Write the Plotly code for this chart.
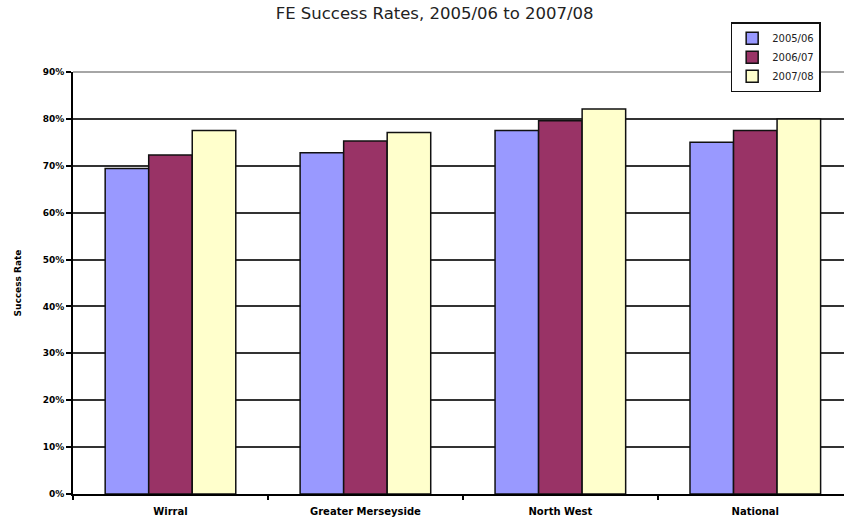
import plotly.graph_objects as go

categories = ["Wirral", "Greater Merseyside", "North West", "National"]
series_names = ["2005/06", "2006/07", "2007/08"]
values_0506 = [0.694, 0.728, 0.775, 0.750]
values_0607 = [0.723, 0.753, 0.796, 0.775]
values_0708 = [0.775, 0.771, 0.821, 0.800]
colors = ["#9999FF", "#993366", "#FFFFCC"]
y_tick_vals = [0, 0.1, 0.2, 0.3, 0.4, 0.5, 0.6, 0.7, 0.8, 0.9]

fig = go.Figure()
for name, vals, col in zip(series_names, [values_0506, values_0607, values_0708], colors):
    fig.add_trace(go.Bar(
        x=categories, y=vals, name=name,
        marker=dict(color=col, line=dict(color="#111111", width=1.5)),
    ))

fig.update_layout(
    width=844, height=520,
    paper_bgcolor="white", plot_bgcolor="white",
    margin=dict(l=73, r=0, t=72, b=26, autoexpand=False),
    barmode="group", bargap=0.33, bargroupgap=0,
    font=dict(family="DejaVu Sans", color="black"),
    title=dict(text="FE Success Rates, 2005/06 to 2007/08",
               x=0.515, xref="container", xanchor="center",
               y=0.975, yref="container", yanchor="middle",
               font=dict(family="DejaVu Sans", size=16.5, color="#222")),
    legend=dict(x=0.853, y=1.118, xanchor="left", yanchor="top",
                xref="paper", yref="paper",
                bgcolor="white", bordercolor="#111", borderwidth=1.5,
                font=dict(family="DejaVu Sans", size=10, color="#222"),
                itemwidth=30, tracegroupgap=0),
    showlegend=True,
)

fig.update_xaxes(
    range=[-0.5, 3.455], showgrid=False, automargin=False,
    showline=True, linecolor="black", linewidth=2,
    ticks="outside", tickson="boundaries", ticklen=4, tickcolor="black", tickwidth=1.5,
    ticklabelstandoff=7,
    tickfont=dict(family="DejaVu Sans", size=10, color="black", weight="bold"),
)
fig.update_yaxes(
    range=[0, 0.9], tickvals=y_tick_vals, tickformat=".0%", automargin=False,
    showgrid=True, gridcolor="#333333", gridwidth=1.6,
    showline=True, linecolor="black", linewidth=2,
    ticks="outside", ticklen=5, tickcolor="black", tickwidth=1.5,
    tickfont=dict(family="DejaVu Sans", size=9, color="black", weight="bold"),
    title=dict(text="Success Rate", standoff=20,
               font=dict(family="DejaVu Sans", size=9, color="black", weight="bold")),
    zeroline=False,
)

# grey plot-area top border
fig.add_shape(type="line", xref="paper", yref="paper", x0=0, x1=1, y0=1, y1=1,
              line=dict(color="#888888", width=1.5), layer="below")

fig.write_html("out.html", config={"displayModeBar": False},
               post_script="document.body.style.margin='0';")
